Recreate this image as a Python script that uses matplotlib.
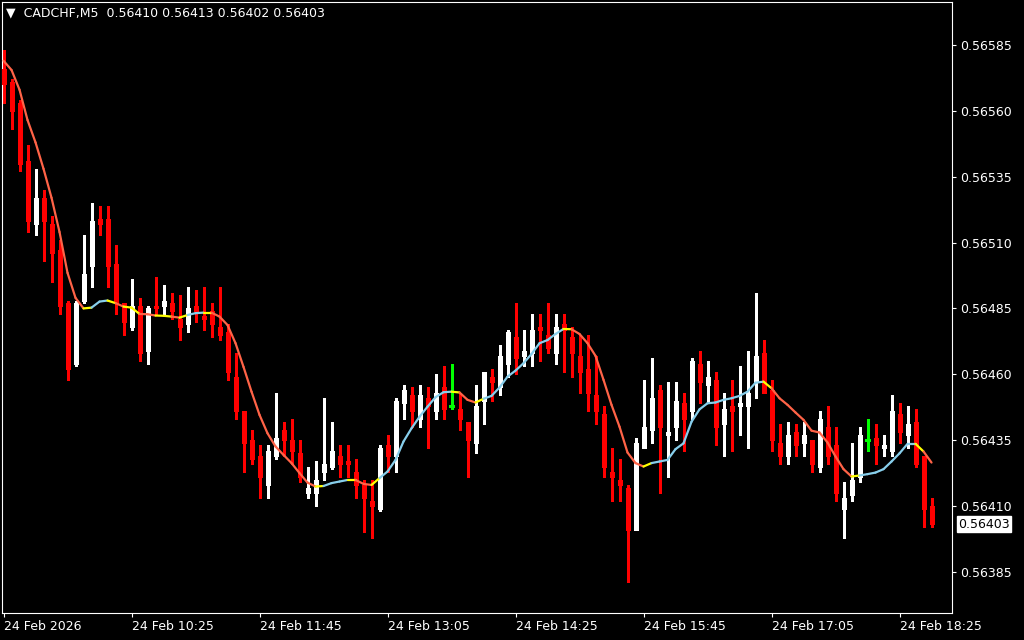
import numpy as np
import pandas as pd
import matplotlib
matplotlib.use('Agg')
import matplotlib.pyplot as plt
from matplotlib.collections import LineCollection
from matplotlib.ticker import FuncFormatter
import matplotlib.transforms as mtransforms

# CADCHF M5 candles, 24 Feb 2026 from 09:05
opens = [0.56576, 0.56571, 0.56563, 0.56541, 0.56517, 0.56527, 0.56517, 0.56507, 0.56487, 0.56464,
         0.56488, 0.56501, 0.56519, 0.56519, 0.56502, 0.56487, 0.56478, 0.56486, 0.56469, 0.56486,
         0.56486, 0.56487, 0.56481, 0.56479, 0.56486, 0.56482, 0.56484, 0.56478, 0.56476, 0.56459,
         0.56446, 0.56435, 0.56429, 0.56418, 0.56429, 0.56439, 0.56435, 0.56430, 0.56415, 0.56415,
         0.56423, 0.56425, 0.56429, 0.56427, 0.56423, 0.56418, 0.56412, 0.56409, 0.56433, 0.56429,
         0.56449, 0.56452, 0.56443, 0.56451, 0.56446, 0.56455, 0.56448, 0.56447, 0.56442, 0.56434,
         0.56450, 0.56459, 0.56455, 0.56464, 0.56474, 0.56467, 0.56468, 0.56478, 0.56475, 0.56468,
         0.56479, 0.56474, 0.56467, 0.56462, 0.56452, 0.56445, 0.56423, 0.56420, 0.56417, 0.56401,
         0.56432, 0.56439, 0.56454, 0.56437, 0.56440, 0.56449, 0.56446, 0.56464, 0.56456, 0.56458,
         0.56441, 0.56448, 0.56448, 0.56448, 0.56457, 0.56468, 0.56454, 0.56434, 0.56429, 0.56438,
         0.56434, 0.56435, 0.56425, 0.56440, 0.56433, 0.56409, 0.56414, 0.56421, 0.56435, 0.56436,
         0.56432, 0.56431, 0.56445, 0.56437, 0.56442, 0.56429, 0.56410]
highs = [0.56583, 0.56572, 0.56564, 0.56547, 0.56538, 0.56530, 0.56520, 0.56511, 0.56488, 0.56488,
         0.56513, 0.56525, 0.56524, 0.56524, 0.56509, 0.56487, 0.56496, 0.56489, 0.56486, 0.56497,
         0.56494, 0.56491, 0.56490, 0.56493, 0.56492, 0.56493, 0.56487, 0.56493, 0.56479, 0.56468,
         0.56446, 0.56439, 0.56433, 0.56433, 0.56453, 0.56442, 0.56443, 0.56435, 0.56425, 0.56427,
         0.56451, 0.56442, 0.56433, 0.56433, 0.56428, 0.56420, 0.56420, 0.56433, 0.56437, 0.56451,
         0.56456, 0.56455, 0.56456, 0.56455, 0.56460, 0.56463, 0.56464, 0.56453, 0.56442, 0.56456,
         0.56461, 0.56462, 0.56471, 0.56477, 0.56487, 0.56477, 0.56483, 0.56483, 0.56487, 0.56483,
         0.56483, 0.56478, 0.56475, 0.56475, 0.56467, 0.56448, 0.56432, 0.56428, 0.56418, 0.56436,
         0.56458, 0.56466, 0.56456, 0.56457, 0.56457, 0.56453, 0.56466, 0.56469, 0.56465, 0.56461,
         0.56453, 0.56458, 0.56463, 0.56469, 0.56491, 0.56473, 0.56458, 0.56441, 0.56442, 0.56441,
         0.56442, 0.56435, 0.56446, 0.56448, 0.56440, 0.56419, 0.56434, 0.56440, 0.56443, 0.56441,
         0.56437, 0.56452, 0.56449, 0.56448, 0.56447, 0.56429, 0.56413]
lows = [0.56563, 0.56553, 0.56537, 0.56514, 0.56513, 0.56503, 0.56495, 0.56483, 0.56458, 0.56463,
        0.56487, 0.56493, 0.56513, 0.56493, 0.56483, 0.56475, 0.56477, 0.56465, 0.56464, 0.56483,
        0.56483, 0.56481, 0.56473, 0.56476, 0.56480, 0.56477, 0.56474, 0.56473, 0.56458, 0.56443,
        0.56423, 0.56426, 0.56413, 0.56413, 0.56428, 0.56429, 0.56426, 0.56419, 0.56413, 0.56410,
        0.56420, 0.56424, 0.56421, 0.56421, 0.56413, 0.56400, 0.56398, 0.56408, 0.56423, 0.56423,
        0.56443, 0.56440, 0.56440, 0.56432, 0.56443, 0.56443, 0.56447, 0.56439, 0.56421, 0.56430,
        0.56441, 0.56450, 0.56452, 0.56459, 0.56460, 0.56463, 0.56463, 0.56465, 0.56468, 0.56464,
        0.56461, 0.56459, 0.56453, 0.56446, 0.56441, 0.56421, 0.56412, 0.56412, 0.56381, 0.56401,
        0.56432, 0.56434, 0.56415, 0.56421, 0.56435, 0.56431, 0.56443, 0.56449, 0.56449, 0.56433,
        0.56429, 0.56431, 0.56437, 0.56432, 0.56451, 0.56453, 0.56431, 0.56426, 0.56426, 0.56429,
        0.56429, 0.56423, 0.56423, 0.56426, 0.56412, 0.56398, 0.56412, 0.56419, 0.56431, 0.56426,
        0.56429, 0.56429, 0.56434, 0.56432, 0.56425, 0.56402, 0.56402]
closes = [0.56570, 0.56560, 0.56540, 0.56518, 0.56527, 0.56518, 0.56506, 0.56486, 0.56462, 0.56487,
          0.56498, 0.56518, 0.56517, 0.56501, 0.56487, 0.56480, 0.56486, 0.56468, 0.56485, 0.56485,
          0.56488, 0.56484, 0.56478, 0.56485, 0.56484, 0.56481, 0.56479, 0.56475, 0.56461, 0.56446,
          0.56434, 0.56428, 0.56421, 0.56431, 0.56436, 0.56435, 0.56431, 0.56421, 0.56417, 0.56420,
          0.56426, 0.56431, 0.56426, 0.56426, 0.56418, 0.56413, 0.56410, 0.56432, 0.56429, 0.56450,
          0.56454, 0.56446, 0.56452, 0.56448, 0.56453, 0.56447, 0.56448, 0.56443, 0.56435, 0.56448,
          0.56461, 0.56457, 0.56467, 0.56476, 0.56466, 0.56469, 0.56477, 0.56477, 0.56470, 0.56478,
          0.56477, 0.56468, 0.56461, 0.56453, 0.56446, 0.56425, 0.56421, 0.56418, 0.56401, 0.56434,
          0.56440, 0.56451, 0.56440, 0.56438, 0.56450, 0.56443, 0.56465, 0.56457, 0.56459, 0.56440,
          0.56447, 0.56446, 0.56449, 0.56453, 0.56467, 0.56453, 0.56435, 0.56429, 0.56437, 0.56433,
          0.56437, 0.56426, 0.56443, 0.56429, 0.56415, 0.56413, 0.56420, 0.56437, 0.56435, 0.56433,
          0.56433, 0.56446, 0.56438, 0.56441, 0.56426, 0.56409, 0.56403]

# smoothed moving average (indicator line)
ma_values = [0.565790, 0.565755, 0.565680, 0.565565, 0.565480, 0.565380, 0.565270, 0.565140, 0.564985, 0.564890,
             0.564850, 0.564853, 0.564876, 0.564880, 0.564870, 0.564857, 0.564853, 0.564829, 0.564828, 0.564823,
             0.564822, 0.564819, 0.564815, 0.564825, 0.564832, 0.564834, 0.564834, 0.564819, 0.564787, 0.564718,
             0.564628, 0.564534, 0.564446, 0.564376, 0.564326, 0.564294, 0.564263, 0.564225, 0.564189, 0.564174,
             0.564176, 0.564187, 0.564193, 0.564199, 0.564199, 0.564184, 0.564180, 0.564206, 0.564231, 0.564275,
             0.564345, 0.564395, 0.564439, 0.564477, 0.564513, 0.564532, 0.564534, 0.564531, 0.564503, 0.564493,
             0.564507, 0.564518, 0.564550, 0.564591, 0.564614, 0.564642, 0.564677, 0.564718, 0.564730, 0.564753,
             0.564772, 0.564771, 0.564753, 0.564718, 0.564670, 0.564579, 0.564484, 0.564401, 0.564303, 0.564263,
             0.564250, 0.564263, 0.564269, 0.564275, 0.564316, 0.564338, 0.564420, 0.564467, 0.564490, 0.564493,
             0.564503, 0.564509, 0.564518, 0.564534, 0.564568, 0.564572, 0.564547, 0.564509, 0.564484, 0.564455,
             0.564427, 0.564386, 0.564379, 0.564341, 0.564288, 0.564240, 0.564212, 0.564216, 0.564221, 0.564227,
             0.564240, 0.564269, 0.564300, 0.564336, 0.564336, 0.564307, 0.564265]
# trend state of each segment: d = down, u = up, f = flat/turning
ma_trend = ('ddddddddd' 'd' 'f' 'uu' 'f' 'd' 'ff' 'dd' 'ff' 'd' 'f' 'uu' 'f'
            'ddddddddddddd' 'f' 'uuu' 'f' 'dd' 'f' 'uuuuuuuuu' 'f' 'dd' 'f'
            'uuuuuuuuuu' 'f' 'ddddddddd' 'f' 'uuuuuuuuuuuuuu' 'f' 'dddddddddd' 'f'
            'uuuuuuu' 'f' 'd')

times = pd.date_range('2026-02-24 09:05', periods=len(opens), freq='5min')

BG = 'black'
FG = 'white'
trend_colors = {'d': '#ff6347', 'u': '#87ceeb', 'f': '#ffff00'}

fig = plt.figure(figsize=(10.24, 6.4), dpi=100, facecolor=BG)
ax = fig.add_axes([2 / 1024, 27 / 640, 950 / 1024, 611 / 640], facecolor=BG)

x = np.arange(len(opens))
o = np.array(opens)
h = np.array(highs)
l = np.array(lows)
c = np.array(closes)

colors = np.where(c > o, 'white', np.where(c < o, '#ff0000', '#00ff00'))

# wicks (1 px) and bodies (5 px wide)
ax.vlines(x, l, h, colors=colors, linewidth=0.75, antialiased=False, zorder=2)
body = c != o
ax.vlines(x[body], np.minimum(o, c)[body], np.maximum(o, c)[body], colors=colors[body],
          linewidth=3.6, antialiased=False, zorder=3)
doji = ~body
ax.hlines(o[doji], x[doji] - 0.3, x[doji] + 0.3, colors='#00ff00', linewidth=0.75,
          antialiased=False, zorder=3)

# indicator line coloured by trend
pts = np.column_stack([x, ma_values])
segs = np.stack([pts[:-1], pts[1:]], axis=1)
lc = LineCollection(segs, colors=[trend_colors[t] for t in ma_trend], linewidth=1.6, zorder=4,
                    capstyle='round')
ax.add_collection(lc)

ax.set_xlim(-0.19, 118.56)
ax.set_ylim(0.563694, 0.566013)

for s in ax.spines.values():
    s.set_color(FG)
    s.set_linewidth(0.8)

yticks = [0.56385 + 0.00025 * k for k in range(9)]
ax.set_yticks(yticks)
ax.yaxis.set_major_formatter(FuncFormatter(lambda v, p: f'{v:.5f}'))
ax.tick_params(axis='y', direction='out', length=3, width=0.8, color=FG, labelcolor=FG,
               labelsize=9, pad=3, right=True, left=False, labelright=True, labelleft=False)

xt = x[::16]
labels = [times[0].strftime('%-d %b %Y')] + [t.strftime('%-d %b %H:%M') for t in times[xt[1:]]]
ax.set_xticks(xt)
ax.set_xticklabels(labels)
ax.tick_params(axis='x', direction='out', length=3, width=0.8, color=FG, labelcolor=FG,
               labelsize=9, pad=2)
for lbl in ax.get_xticklabels():
    lbl.set_horizontalalignment('left')

# current price tag
trans = mtransforms.blended_transform_factory(ax.transAxes, ax.transData)
ax.text(1.0066, closes[-1], f'{closes[-1]:.5f}', transform=trans, color='black', fontsize=9,
        va='center', ha='left',
        bbox=dict(boxstyle='square,pad=0.12', facecolor='white', edgecolor='white'))

fig.text(6 / 1024, 1 - 13 / 640,
         f'\u25bc  CADCHF,M5  {opens[-1]:.5f} {highs[-1]:.5f} {lows[-1]:.5f} {closes[-1]:.5f}',
         color=FG, fontsize=9, va='center', ha='left')

fig.savefig('out.png', dpi=100, facecolor=BG)
